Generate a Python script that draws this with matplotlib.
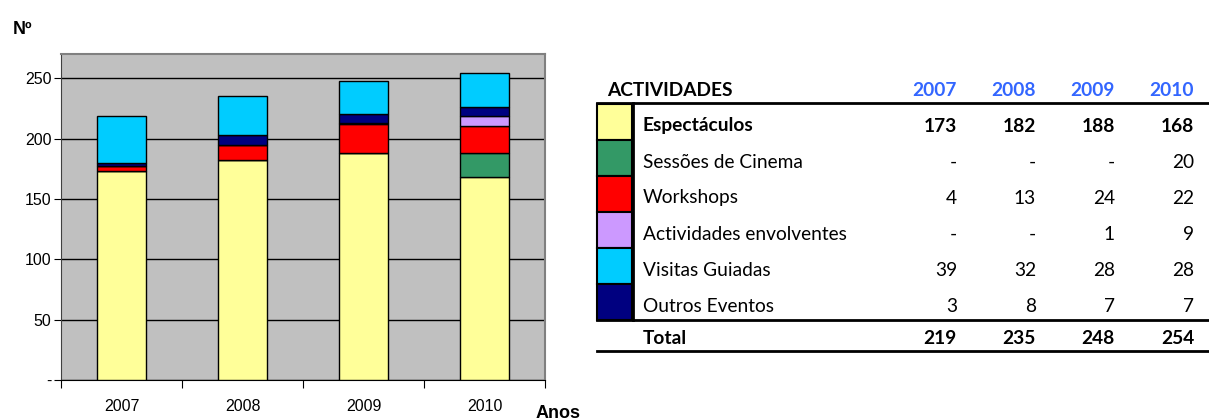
import numpy as np
import matplotlib.pyplot as plt
from matplotlib.patches import Rectangle

# data
years = ['2007', '2008', '2009', '2010']
espectaculos = [173, 182, 188, 168]
cinema = [0, 0, 0, 20]
workshops = [4, 13, 24, 22]
envolventes = [0, 0, 1, 9]
visitas = [39, 32, 28, 28]
outros = [3, 8, 7, 7]

# stacking order in the bars (bottom -> top)
stack_names = ['Espectáculos', 'Sessões de Cinema', 'Workshops',
               'Actividades envolventes', 'Outros Eventos', 'Visitas Guiadas']
stack_vals = [espectaculos, cinema, workshops, envolventes, outros, visitas]
stack_cols = ['#FFFF99', '#339966', '#FF0000', '#CC99FF', '#000080', '#00CCFF']

# table order
table_names = ['Espectáculos', 'Sessões de Cinema', 'Workshops',
               'Actividades envolventes', 'Visitas Guiadas', 'Outros Eventos']
table_vals = [espectaculos, cinema, workshops, envolventes, visitas, outros]
table_cols = ['#FFFF99', '#339966', '#FF0000', '#CC99FF', '#00CCFF', '#000080']
totals = [sum(v) for v in zip(*stack_vals)]

W, H = 1209, 420
fig = plt.figure(figsize=(W / 100, H / 100), dpi=100)

# ---- bar chart ----
ax = fig.add_axes([61 / W, 1 - 380 / H, 484 / W, 326 / H])
ax.set_facecolor('#C0C0C0')
x = np.arange(len(years))
bottom = np.zeros(len(years))
for vals, col in zip(stack_vals, stack_cols):
    ax.bar(x, vals, 0.4, bottom=bottom, color=col, edgecolor='black', linewidth=1, zorder=3)
    bottom += np.array(vals)

ax.set_xlim(-0.5, 3.5)
ax.set_ylim(0, 270)
ax.set_yticks([0, 50, 100, 150, 200, 250])
ax.set_yticklabels(['-', '50', '100', '150', '200', '250'], fontfamily='Liberation Sans', fontsize=11.5)
ax.yaxis.grid(True, color='black', linewidth=1)
ax.set_axisbelow(True)
ax.set_xticks([-0.5, 0.5, 1.5, 2.5, 3.5])
ax.set_xticklabels([])
ax.set_xticks(x, minor=True)
ax.set_xticklabels(years, minor=True, fontfamily='Liberation Sans', fontsize=11.5)
ax.tick_params(axis='x', which='major', length=6, direction='out')
ax.tick_params(axis='x', which='minor', length=0, pad=14)
ax.tick_params(axis='y', length=5, direction='out', pad=2)
for s in ['top', 'right']:
    ax.spines[s].set_color('#808080')
    ax.spines[s].set_linewidth(1.5)
ax.spines['left'].set_color('#404040')
ax.spines['bottom'].set_color('black')

fig.text(13 / W, 1 - 30 / H, 'Nº', fontfamily='Liberation Sans', fontweight='bold',
         fontsize=13, va='center', ha='left')
fig.text(536 / W, 1 - 413 / H, 'Anos', fontfamily='Liberation Sans', fontweight='bold',
         fontsize=13, va='center', ha='left')

# ---- table ----
tx = fig.add_axes([0, 0, 1, 1])
tx.set_xlim(0, W)
tx.set_ylim(H, 0)
tx.axis('off')

tfont = 'Lato'
fs = 13.8
col_x = [957, 1036, 1115, 1194]
tx.text(607, 91, 'ACTIVIDADES', fontfamily=tfont, fontweight='bold', fontsize=fs, va='center')
for cx, yr in zip(col_x, years):
    tx.text(cx, 91, yr, fontfamily=tfont, fontweight='bold', fontsize=fs,
            color='#3366FF', ha='right', va='center')

row_top = 104
row_h = 36
for i, (name, vals, col) in enumerate(zip(table_names, table_vals, table_cols)):
    y0 = row_top + i * row_h
    tx.add_patch(Rectangle((597, y0), 35, row_h, facecolor=col, edgecolor='black', linewidth=1.5))
    bold = 'bold' if i == 0 else 'normal'
    yc = y0 + row_h / 2 + 4
    tx.text(643, yc, name, fontfamily=tfont, fontweight=bold, fontsize=fs, va='center')
    for cx, v in zip(col_x, vals):
        tx.text(cx, yc, '-' if v == 0 else str(v), fontfamily=tfont, fontweight=bold,
                fontsize=fs, ha='right', va='center')

y_end = row_top + len(table_names) * row_h
tx.plot([597, 1209], [103, 103], color='black', linewidth=2)
tx.plot([633, 633], [103, y_end], color='black', linewidth=2)
tx.plot([597, 1209], [y_end, y_end], color='black', linewidth=2)

tot_y = y_end + 18
tx.text(643, tot_y, 'Total', fontfamily=tfont, fontweight='bold', fontsize=fs, va='center')
for cx, v in zip(col_x, totals):
    tx.text(cx, tot_y, str(v), fontfamily=tfont, fontweight='bold', fontsize=fs,
            ha='right', va='center')
tx.plot([597, 1209], [tot_y + 13, tot_y + 13], color='black', linewidth=2)

fig.savefig('out.png', dpi=100)
